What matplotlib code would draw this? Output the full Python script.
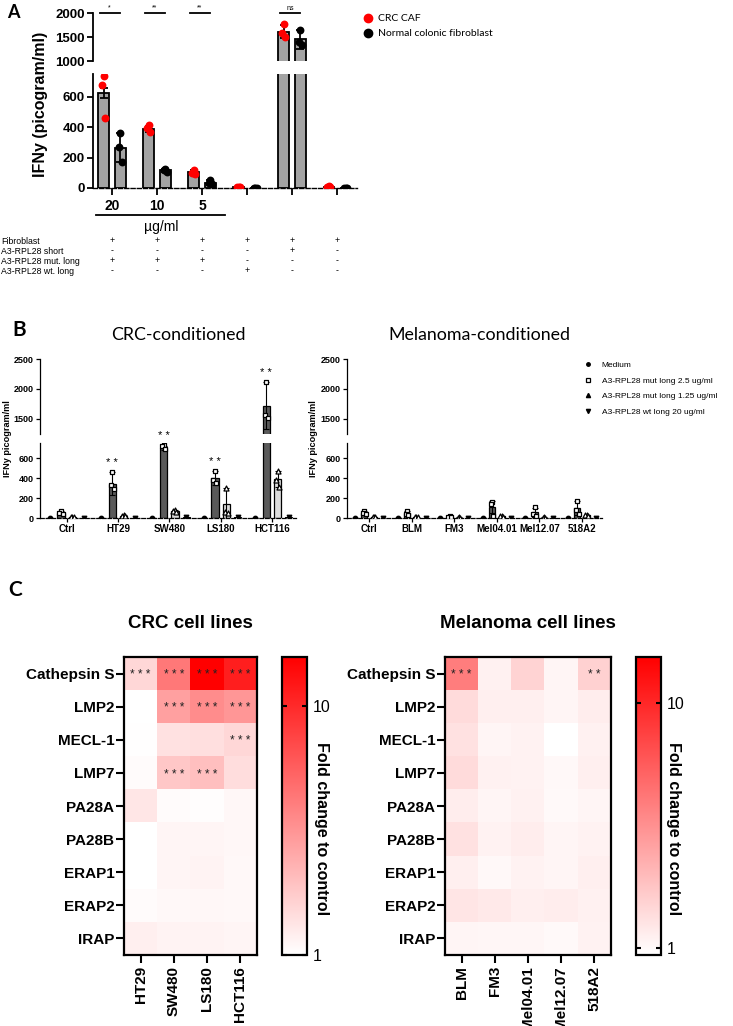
import numpy as np
import matplotlib
matplotlib.use("Agg")
from matplotlib import pyplot as plt
from matplotlib import transforms
from matplotlib.colors import LinearSegmentedColormap, LogNorm
from matplotlib.lines import Line2D
from matplotlib.ticker import NullLocator

plt.rcParams['font.family'] = ['Liberation Sans', 'DejaVu Sans']
CAL = ['Lato', 'DejaVu Sans']

# ---------------- panel A data ----------------
a_doses = ['20', '10', '5', '', '', '']
caf_mean = [625, 390, 103, 6, 1610, 8]
caf_err = [35, 20, 15, 2, 140, 2]
caf_pts = [[740, 680, 460], [415, 395, 370], [120, 100, 90], [8, 6, 5], [1770, 1590, 1500], [10, 8, 6]]
ncf_mean = [265, 117, 35, 3, 1450, 3]
ncf_err = [95, 10, 15, 1, 190, 1]
ncf_pts = [[360, 270, 170], [125, 120, 105], [50, 30, 25], [3, 3, 2], [1650, 1400, 1330], [3, 2, 2]]
a_sig = ['*', '**', '**', '', 'ns', '']
table_rows = ['Fibroblast', 'A3-RPL28 short', 'A3-RPL28 mut. long', 'A3-RPL28 wt. long']
table_signs = [['+', '+', '+', '+', '+', '+'],
               ['-', '-', '-', '-', '+', '-'],
               ['+', '+', '+', '-', '-', '-'],
               ['-', '-', '-', '+', '-', '-']]

# ---------------- panel B data ----------------
crc_names = ['Ctrl', 'HT29', 'SW480', 'LS180', 'HCT116']
crc_med = [5, 3, 5, 5, 5]
crc_m25 = [55, 345, 705, 400, 1720]
crc_m25_err = [15, 115, 20, 70, 390]
crc_m25_pts = [[70, 50, 45], [460, 330, 290], [730, 720, 690], [470, 380, 350], [2110, 1560, 1510]]
crc_m125 = [10, 25, 70, 140, 390]
crc_m125_err = [5, 8, 10, 160, 80]
crc_m125_pts = [[15, 10, 8], [30, 25, 20], [80, 70, 65], [300, 60, 50], [470, 380, 310]]
crc_wt = [5, 3, 10, 10, 10]
crc_sig = ['', '**', '**', '**', '**']

mel_names = ['Ctrl', 'BLM', 'FM3', 'Mel04.01', 'Mel12.07', '518A2']
mel_med = [5, 3, 3, 3, 3, 5]
mel_m25 = [55, 50, 15, 110, 60, 100]
mel_m25_err = [15, 20, 5, 60, 45, 70]
mel_m25_pts = [[70, 50, 45], [70, 45, 35], [20, 15, 10], [165, 140, 25], [110, 45, 25], [175, 80, 45]]
mel_m125 = [10, 10, 5, 20, 5, 30]
mel_m125_err = [3, 3, 2, 5, 2, 5]
mel_m125_pts = [[15, 10, 8], [12, 10, 8], [6, 5, 4], [25, 20, 15], [6, 5, 4], [35, 30, 25]]
mel_wt = [5, 3, 3, 3, 5, 3]
mel_sig = ['', '', '', '', '', '']

b_legend = ['Medium', 'A3-RPL28 mut long 2.5 ug/ml', 'A3-RPL28 mut long 1.25 ug/ml', 'A3-RPL28 wt long 20 ug/ml']

# ---------------- panel C data ----------------
genes = ['Cathepsin S', 'LMP2', 'MECL-1', 'LMP7', 'PA28A', 'PA28B', 'ERAP1', 'ERAP2', 'IRAP']
crc_cells = ['HT29', 'SW480', 'LS180', 'HCT116']
crc_fold = [[1.55, 4.3, 15.7, 11.3],
            [1.0, 2.8, 3.45, 3.1],
            [1.02, 1.39, 1.42, 1.55],
            [1.05, 1.83, 2.0, 1.45],
            [1.32, 1.05, 1.03, 1.1],
            [1.0, 1.12, 1.12, 1.1],
            [1.0, 1.12, 1.15, 1.08],
            [1.05, 1.08, 1.1, 1.08],
            [1.2, 1.15, 1.15, 1.12]]
crc_stars = [['***', '***', '***', '***'],
             ['', '***', '***', '***'],
             ['', '', '', '***'],
             ['', '***', '***', ''],
             [''] * 4, [''] * 4, [''] * 4, [''] * 4, [''] * 4]
mel_cells = ['BLM', 'FM3', 'Mel04.01', 'Mel12.07', '518A2']
mel_fold = [[3.9, 1.1, 1.5, 1.05, 1.55],
            [1.4, 1.12, 1.12, 1.05, 1.15],
            [1.3, 1.05, 1.08, 0.94, 1.1],
            [1.4, 1.1, 1.08, 1.02, 1.12],
            [1.15, 1.05, 1.1, 1.0, 1.05],
            [1.3, 1.08, 1.15, 1.05, 1.08],
            [1.12, 1.02, 1.08, 1.05, 1.12],
            [1.25, 1.2, 1.12, 1.15, 1.1],
            [1.05, 1.04, 1.04, 1.0, 1.08]]
mel_stars = [['***', '', '', '', '**']] + [[''] * 5 for _ in range(8)]

W, H = 733, 1026
fig = plt.figure(figsize=(W / 100, H / 100), dpi=100)


def px_axes(x0, y0, x1, y1):
    return fig.add_axes([x0 / W, 1 - y1 / H, (x1 - x0) / W, (y1 - y0) / H])


def fx(x):
    return x / W


def fy(y):
    return 1 - y / H


# ====================== A ======================
fig.text(fx(7), fy(12), 'A', family=CAL, fontweight='bold', fontsize=13, va='center')
a_hi = px_axes(93, 13, 357, 61)
a_lo = px_axes(93, 74, 357, 188)
xa = np.arange(len(caf_mean))
off = 0.185
for ax in (a_hi, a_lo):
    ax.bar(xa - off, caf_mean, 0.237, color='#a3a3a3', edgecolor='black', linewidth=1.3, zorder=2)
    ax.bar(xa + off, ncf_mean, 0.237, color='#a3a3a3', edgecolor='black', linewidth=1.3, zorder=2)
    ax.errorbar(xa - off, caf_mean, yerr=caf_err, fmt='none', ecolor='black', elinewidth=1.3, capsize=3, capthick=1.3, zorder=3)
    ax.errorbar(xa + off, ncf_mean, yerr=ncf_err, fmt='none', ecolor='black', elinewidth=1.3, capsize=3, capthick=1.3, zorder=3)
    jit = [0.0, -0.035, 0.035]
    for i in range(len(xa)):
        ax.scatter(xa[i] - off + np.array(jit), caf_pts[i], s=32, color='#ff0000', zorder=4, linewidths=0)
        ax.scatter(xa[i] + off + np.array(jit), ncf_pts[i], s=32, color='black', zorder=4, linewidths=0)
    ax.set_xlim(-0.42, 5.44)
    for s in ('top', 'right'):
        ax.spines[s].set_visible(False)
    ax.spines['left'].set_linewidth(1.3)
    ax.tick_params(axis='y', length=4, width=1.3, pad=2)

a_hi.set_ylim(1000, 2000)
a_hi.set_yticks([1000, 1500, 2000])
a_hi.spines['bottom'].set_visible(False)
a_hi.set_xticks([])
a_lo.set_ylim(0, 750)
a_lo.set_yticks([0, 200, 400, 600])
a_lo.spines['bottom'].set_linewidth(1.0)
a_lo.spines['bottom'].set_linestyle((0, (3, 1.5)))
a_lo.set_xticks(xa)
a_lo.set_xticklabels(a_doses, fontweight='bold', fontsize=10)
a_lo.tick_params(axis='x', length=5, width=1.3, pad=3)
for ax in (a_hi, a_lo):
    for lab in ax.get_yticklabels():
        lab.set_fontweight('bold')
        lab.set_fontsize(9.5)

for i, s in enumerate(a_sig):
    if s:
        a_hi.plot([i - 0.27, i + 0.17], [2000, 2000], color='black', lw=1.3, clip_on=False)
        a_hi.text(i - 0.05, 2030, s, ha='center', va='bottom', fontsize=5)

fig.text(fx(41), fy(104), 'IFNy (picogram/ml)', rotation=90, ha='center', va='center',
         fontsize=11.5, fontweight='bold')

fig.add_artist(Line2D([fx(96), fx(225)], [fy(215), fy(215)], color='black', lw=1.3))
fig.text(fx(161), fy(227), 'µg/ml', ha='center', va='center', fontsize=10)

tr = transforms.blended_transform_factory(a_lo.transData, fig.transFigure)
for r, (name, signs) in enumerate(zip(table_rows, table_signs)):
    yy = fy(241 + 10 * r)
    fig.text(fx(1), yy, name, ha='left', va='center', fontsize=6.3)
    for i, s in enumerate(signs):
        fig.text(xa[i], yy, s, ha='center', va='center', fontsize=6.3, transform=tr)

a_handles = [Line2D([], [], marker='o', ls='none', color='#ff0000', markersize=6),
             Line2D([], [], marker='o', ls='none', color='black', markersize=6)]
fig.legend(a_handles, ['CRC CAF', 'Normal colonic fibroblast'], loc='upper left',
           bbox_to_anchor=(fx(364), fy(14)), frameon=False, handlelength=0.8,
           handletextpad=0.5, labelspacing=0.55, borderpad=0, borderaxespad=0,
           prop={'family': CAL, 'size': 7.5})

# ====================== B ======================
fig.text(fx(12), fy(330), 'B', family=CAL, fontweight='bold', fontsize=15, va='center')
fig.text(fx(178), fy(335), 'CRC-conditioned', family=CAL, fontsize=12.8, ha='center', va='center')
fig.text(fx(479), fy(335), 'Melanoma-conditioned', family=CAL, fontsize=12.8, ha='center', va='center')


def draw_b(x0, x1, names, med, m25, m25e, m25p, m125, m125e, m125p, wt, sig, ylab_x):
    hi = px_axes(x0, 359, x1, 434)
    lo = px_axes(x0, 443, x1, 518)
    x = np.arange(len(names))
    offs = np.array([-1.5, -0.5, 0.5, 1.5]) * 0.22
    bw = 0.14
    for ax in (hi, lo):
        ax.bar(x + offs[0], med, bw, color='#222222', edgecolor='black', linewidth=0.8, zorder=2)
        ax.bar(x + offs[1], m25, bw, color='#5a5a5a', edgecolor='black', linewidth=0.9, zorder=2)
        ax.bar(x + offs[2], m125, bw, color='#dcdcdc', edgecolor='black', linewidth=0.9, zorder=2)
        ax.bar(x + offs[3], wt, bw, color='#222222', edgecolor='black', linewidth=0.8, zorder=2)
        ax.errorbar(x + offs[1], m25, yerr=m25e, fmt='none', ecolor='black', elinewidth=0.8, capsize=2, capthick=0.8, zorder=3)
        ax.errorbar(x + offs[2], m125, yerr=m125e, fmt='none', ecolor='black', elinewidth=0.8, capsize=2, capthick=0.8, zorder=3)
        ax.scatter(x + offs[0], med, s=10, marker='o', color='black', zorder=4)
        ax.scatter(x + offs[3], wt, s=10, marker='v', color='black', zorder=4)
        jit = np.array([0.0, -0.03, 0.03])
        for i in range(len(x)):
            ax.scatter(x[i] + offs[1] + jit, m25p[i], s=12, marker='s', facecolor='white',
                       edgecolor='black', linewidths=0.9, zorder=4)
            ax.scatter(x[i] + offs[2] + jit, m125p[i], s=13, marker='^', facecolor='white',
                       edgecolor='black', linewidths=0.9, zorder=4)
        ax.set_xlim(-0.52, len(names) - 0.53)
        for s in ('top', 'right'):
            ax.spines[s].set_visible(False)
        ax.spines['left'].set_linewidth(0.9)
        ax.tick_params(axis='y', length=3, width=0.9, labelsize=6.5, pad=1.5)
    hi.set_ylim(1250, 2500)
    hi.set_yticks([1500, 2000, 2500])
    hi.spines['bottom'].set_visible(False)
    hi.set_xticks([])
    lo.set_ylim(0, 750)
    lo.set_yticks([0, 200, 400, 600])
    lo.spines['bottom'].set_linewidth(0.9)
    lo.spines['bottom'].set_linestyle((0, (3, 1.5)))
    lo.set_xticks(x)
    lo.set_xticklabels(names, fontweight='bold', fontsize=7)
    lo.tick_params(axis='x', length=3, width=0.9, pad=1.5)
    for ax in (hi, lo):
        for lab in ax.get_yticklabels():
            lab.set_fontweight('bold')
    for i, s in enumerate(sig):
        if s:
            top = m25[i] + m25e[i]
            ax = hi if top > 1250 else lo
            ax.annotate(' '.join(s), (x[i] + offs[1], top), xytext=(0, 6.5), textcoords='offset points',
                        ha='center', va='center', fontsize=8, annotation_clip=False)
    fig.text(fx(ylab_x), fy(439), 'IFNy picogram/ml', rotation=90, ha='center', va='center',
             fontsize=6.6, fontweight='bold')
    return hi, lo


draw_b(40, 296, crc_names, crc_med, crc_m25, crc_m25_err, crc_m25_pts,
       crc_m125, crc_m125_err, crc_m125_pts, crc_wt, crc_sig, 8)
draw_b(347, 602, mel_names, mel_med, mel_m25, mel_m25_err, mel_m25_pts,
       mel_m125, mel_m125_err, mel_m125_pts, mel_wt, mel_sig, 314)

b_handles = [Line2D([], [], marker='o', ls='none', color='black', markersize=2.5),
             Line2D([], [], marker='s', ls='none', markerfacecolor='white', markeredgecolor='black', markersize=3, markeredgewidth=0.9),
             Line2D([], [], marker='^', ls='none', color='black', markersize=3),
             Line2D([], [], marker='v', ls='none', color='black', markersize=3)]
fig.legend(b_handles, b_legend, loc='upper left', bbox_to_anchor=(fx(585), fy(361)),
           frameon=False, handlelength=0.8, handletextpad=1.2, labelspacing=0.95,
           borderpad=0, borderaxespad=0, prop={'size': 6})

# ====================== C ======================
fig.text(fx(8), fy(590), 'C', family=CAL, fontweight='bold', fontsize=15, va='center')
cmap = LinearSegmentedColormap.from_list('wr', ['#ffffff', '#ff0000'])


def draw_heat(x0, x1, cb_x0, cb_x1, cells, fold, stars, title, tx, vmin, vmax, cb_lab_x):
    ax = px_axes(x0, 657, x1, 955)
    data = np.array(fold)
    im = ax.imshow(data, cmap=cmap, norm=LogNorm(vmin=vmin, vmax=vmax), aspect='auto',
                   interpolation='nearest')
    ax.set_xticks(range(len(cells)))
    ax.set_xticklabels(cells, rotation=90, fontweight='bold', fontsize=11)
    ax.set_yticks(range(len(genes)))
    ax.set_yticklabels(genes, fontweight='bold', fontsize=11)
    ax.tick_params(length=6, width=1.5, pad=1)
    ax.tick_params(axis='x', pad=2)
    for s in ax.spines.values():
        s.set_linewidth(1.6)
    for r in range(len(genes)):
        for c in range(len(cells)):
            if stars[r][c]:
                ax.text(c, r + 0.05, ' '.join(stars[r][c]), ha='center', va='center', fontsize=8.5,
                        color='#222222')
    fig.text(fx(tx), fy(623), title, ha='center', va='center', fontsize=13.5, fontweight='bold')
    cax = px_axes(cb_x0, 657, cb_x1, 955)
    cb = fig.colorbar(im, cax=cax)
    cb.outline.set_linewidth(1.6)
    cax.yaxis.set_minor_locator(NullLocator())
    cax.set_yticks([1, 10])
    cax.set_yticklabels(['1', '10'])
    cax.tick_params(axis='y', which='major', left=True, right=True, direction='in',
                    length=3.5, width=1.5, labelsize=11.5, pad=4)
    fig.text(fx(cb_lab_x), fy(742), 'Fold change to control', rotation=270, ha='center', va='top',
             fontsize=11.5, fontweight='bold')


draw_heat(124, 257, 282, 307, crc_cells, crc_fold, crc_stars, 'CRC cell lines', 190, 1.0, 15.7, 322)
draw_heat(445, 611, 636, 661, mel_cells, mel_fold, mel_stars, 'Melanoma cell lines', 528, 0.936, 15.4, 673)

fig.savefig('out.png', dpi=100)
